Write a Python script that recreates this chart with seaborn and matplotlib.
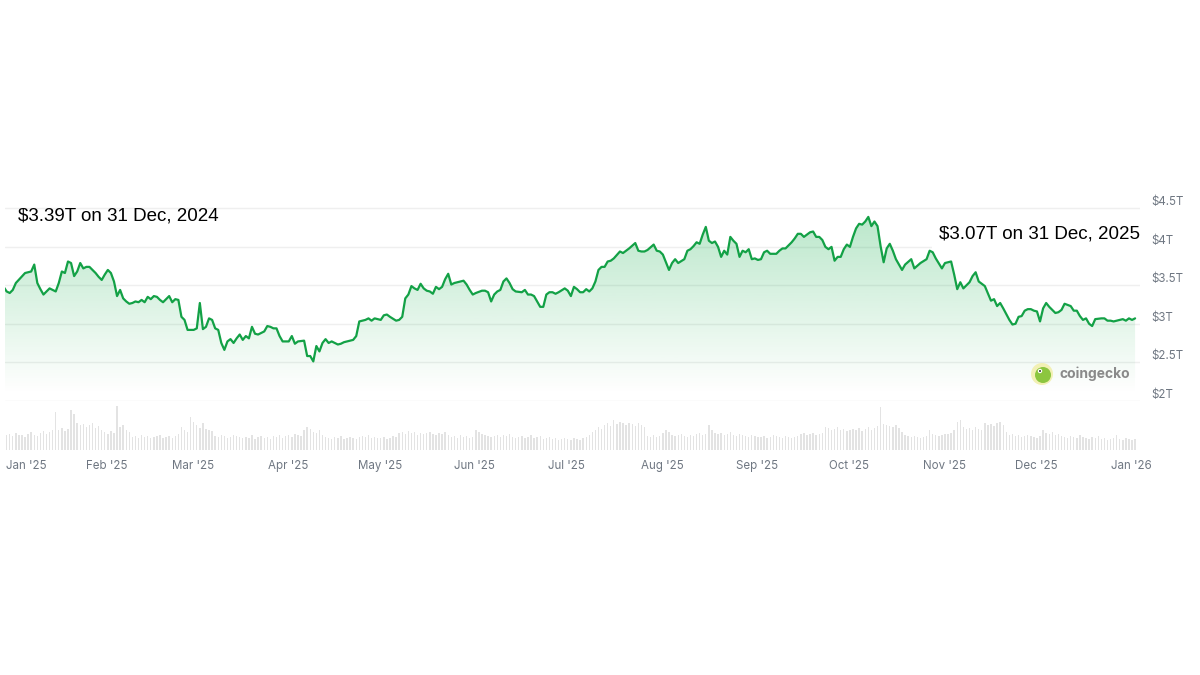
import numpy as np
import pandas as pd
import matplotlib
matplotlib.use("Agg")
import matplotlib.pyplot as plt
import matplotlib.dates as mdates
import matplotlib.transforms as mtransforms
from matplotlib.patches import Circle
import seaborn as sns

start = pd.Timestamp("2024-12-31")

# days after 31 Dec 2024, total market cap in $T
cap_day = [-3, -2, -1, 0, 1, 4, 5, 6, 7, 8, 9, 10, 11, 12, 13, 14, 15, 16, 17, 18, 19, 20, 21, 22, 23, 24, 25, 27,
           28, 29, 30, 31, 32, 33, 34, 35, 36, 37, 38, 39, 40, 41, 42, 43, 44, 45, 46, 47, 48, 49, 50, 51, 52, 53, 54,
           55, 56, 57, 58, 59, 60, 61, 62, 63, 64, 65, 66, 67, 68, 69, 70, 71, 72, 73, 74, 75, 76, 77, 78, 79, 80, 82,
           83, 84, 85, 86, 87, 88, 90, 91, 92, 93, 95, 96, 97, 98, 99, 100, 101, 102, 103, 104,
           106, 107, 108, 109, 110, 111, 112, 113, 114, 115, 116, 117, 118, 119, 120, 121, 122, 123, 125, 126, 127,
           128, 129, 130, 131, 132, 133, 134, 135, 136, 137, 138, 139, 140, 141, 142, 143, 144, 146, 147, 148, 149,
           150, 151, 153, 154, 155, 156, 157, 158, 159, 160, 161, 162, 163, 164, 166, 167, 168, 169, 170, 171, 172,
           173, 174, 175, 176, 177, 178, 180, 181, 182, 183, 184, 185, 186, 187, 188, 189, 190, 191, 192, 193, 194,
           195, 196, 198, 199, 200, 201, 203, 204, 205, 206, 207,
           209, 210, 211, 212, 213, 214, 215, 216, 217, 219, 220, 221, 222, 223, 224, 225, 226, 227, 228, 229, 230,
           231, 232, 233, 234, 235, 236, 237, 238, 239, 240, 241, 242, 243, 244, 245, 246, 247, 248, 249, 250, 251,
           252, 254, 255, 256, 257, 258, 259, 260, 261, 262, 263, 264, 265, 266, 267, 268, 269, 270, 271, 272, 273,
           274, 275, 276, 277, 278, 279, 280, 281, 282, 283, 284, 285, 286, 287, 288, 290, 291, 293, 294, 296, 298,
           299, 300, 301, 303, 304, 306, 307, 308, 309, 310,
           312, 313, 314, 315, 317, 319, 320, 321, 322, 323, 325, 326, 327, 328, 329, 330, 331, 332, 333, 334, 335,
           336, 337, 338, 340, 341, 342, 343, 345, 346, 347, 348, 349, 350, 351, 352, 353, 355, 356, 357, 358, 359,
           361, 362, 363, 364, 365, 366]
cap_trillion = [3.48, 3.42, 3.40, 3.44, 3.53, 3.66, 3.67, 3.68, 3.77, 3.53, 3.45, 3.38, 3.42, 3.46, 3.44, 3.42, 3.53,
                3.68, 3.66, 3.81, 3.79, 3.62, 3.68, 3.79, 3.72, 3.74, 3.74, 3.66, 3.61, 3.57, 3.64, 3.70, 3.66, 3.55,
                3.36, 3.44, 3.33, 3.29, 3.26, 3.27, 3.29, 3.28, 3.31, 3.28, 3.35, 3.32, 3.36, 3.35, 3.31, 3.28, 3.32,
                3.36, 3.28, 3.32, 3.31, 3.09, 3.05, 2.92, 2.92, 2.92, 2.94, 3.27, 2.93, 2.96, 3.07, 3.05, 2.94, 2.92,
                2.75, 2.66, 2.77, 2.80, 2.75, 2.81, 2.86, 2.79, 2.84, 2.81, 2.96, 2.87, 2.86, 2.90, 2.97, 2.96, 2.94,
                2.94, 2.84, 2.77, 2.77, 2.84, 2.74, 2.77, 2.78, 2.58, 2.58, 2.51, 2.71, 2.64, 2.75, 2.80, 2.75, 2.77,
                2.73, 2.74, 2.76, 2.77, 2.78, 2.79, 2.84, 3.03, 3.04, 3.05, 3.07, 3.04, 3.07, 3.06, 3.05, 3.11, 3.12,
                3.09, 3.04, 3.05, 3.09, 3.33, 3.38, 3.49, 3.46, 3.44, 3.52, 3.46, 3.43, 3.42, 3.39, 3.48, 3.45, 3.48,
                3.58, 3.65, 3.51, 3.53, 3.55, 3.56, 3.51, 3.44, 3.38, 3.40, 3.43, 3.43, 3.41, 3.29, 3.38, 3.42, 3.44,
                3.55, 3.59, 3.53, 3.45, 3.42, 3.41, 3.44, 3.38, 3.38, 3.36, 3.29, 3.22, 3.22, 3.38, 3.41, 3.41, 3.39,
                3.41, 3.46, 3.43, 3.36, 3.48, 3.45, 3.41, 3.41, 3.45, 3.42, 3.46, 3.55, 3.70, 3.74, 3.74, 3.81, 3.82,
                3.85, 3.94, 3.92, 3.95, 3.98, 4.05, 3.95, 3.94, 3.94, 3.96, 4.03, 3.95, 3.94, 3.90, 3.80, 3.70, 3.79,
                3.84, 3.79, 3.84, 3.95, 3.97, 4.01, 4.06, 4.04, 4.16, 4.26, 4.08, 4.05, 4.07, 4.00, 3.87, 3.95, 3.90,
                4.13, 4.08, 4.04, 3.87, 3.95, 3.93, 3.97, 3.84, 3.85, 3.83, 3.84, 3.93, 3.95, 3.91, 3.91, 3.91, 3.95,
                3.98, 3.98, 4.06, 4.11, 4.17, 4.17, 4.13, 4.16, 4.19, 4.20, 4.13, 4.13, 4.09, 4.00, 3.97, 4.00, 3.82,
                3.87, 3.87, 3.97, 4.03, 4.00, 4.13, 4.24, 4.30, 4.29, 4.33, 4.39, 4.27, 4.33, 4.27, 4.01, 3.80, 3.98,
                4.04, 3.95, 3.84, 3.70, 3.77, 3.84, 3.72, 3.79, 3.84, 3.95, 3.93, 3.85, 3.72, 3.79, 3.81, 3.64, 3.45,
                3.54, 3.46, 3.54, 3.62, 3.67, 3.55, 3.49, 3.30, 3.32, 3.23, 3.27, 3.20, 3.05, 2.99, 3.00, 3.09, 3.10,
                3.17, 3.19, 3.19, 3.17, 3.16, 3.03, 3.20, 3.27, 3.22, 3.14, 3.15, 3.18, 3.26, 3.23, 3.17, 3.17, 3.10,
                3.05, 3.07, 3.00, 2.97, 3.06, 3.07, 3.07, 3.04, 3.04, 3.03, 3.05, 3.06, 3.04, 3.07, 3.05, 3.07]

# daily volume in $B, consecutive days from 28 Dec 2024 to 1 Jan 2026
vol_start = "2024-12-28"
vol_q1 = [150, 150, 160, 140, 170, 155, 150, 130, 160, 180, 150, 140, 170, 190, 160, 180, 200, 380, 200, 220, 190,
          210, 400, 360, 270, 250, 260, 230, 250, 270, 220, 240, 200,
          180, 160, 190, 170, 440, 230, 250, 200, 180, 130, 140, 120, 150, 130, 140, 120, 130, 140, 150, 120,
          130, 140, 120, 140, 160, 230, 200, 180,
          330, 280, 250, 220, 270, 210, 200, 190, 140, 130, 150, 140, 120, 130, 150, 140, 130, 120, 130, 120,
          150, 110, 130, 140, 120, 130, 110, 140, 130, 150, 120]
vol_q2 = [140, 150, 130, 160, 150, 140, 200, 230, 210, 180, 170, 200, 150, 130, 120, 110, 130, 120, 140, 110,
          120, 130, 120, 110, 130, 140, 130, 150, 120, 130, 125,
          120, 130, 110, 120, 140, 130, 170, 180, 160, 190, 170, 180, 150, 170, 160, 170, 180, 160, 150, 170,
          160, 180, 150, 130, 140, 120, 150, 130, 140, 120, 130,
          200, 180, 160, 150, 140, 130, 140, 150, 130, 150, 140, 160, 130, 120, 130, 140, 120, 130, 150, 120,
          130, 140, 110, 120, 130, 110, 120, 100, 110, 120]
vol_q3 = [110, 100, 120, 110, 100, 120, 130, 150, 180, 200, 230, 210, 250, 270, 240, 300, 260, 280, 270, 250,
          270, 260, 240, 270, 250, 230, 140, 130, 150, 130, 140, 170,
          200, 180, 150, 140, 150, 160, 140, 130, 150, 140, 160, 170, 150, 160, 250, 200, 170, 160, 170, 150,
          160, 180, 150, 140, 160, 150, 140, 130, 150, 140, 130,
          130, 140, 120, 130, 150, 140, 130, 120, 140, 130, 120, 130, 140, 160, 170, 150, 160, 170, 150, 160,
          170, 230, 220, 200, 210, 230, 200, 210, 190, 200]
vol_q4 = [210, 200, 220, 190, 210, 230, 200, 220, 240, 430, 260, 250, 240, 230, 250, 220, 180, 150, 140, 130,
          140, 130, 120, 130, 140, 200, 160, 150, 140, 150, 160, 165,
          170, 200, 280, 300, 230, 210, 220, 200, 230, 210, 200, 270, 250, 260, 240, 270, 280, 250, 180, 150,
          160, 140, 150, 130, 140, 150, 140, 130, 120, 140,
          200, 170, 160, 180, 150, 160, 140, 130, 120, 140, 130, 120, 150, 130, 120, 110, 130, 120, 140, 110,
          120, 100, 110, 120, 150, 110, 100, 120, 110, 100, 110]

y_ticks = [2, 2.5, 3, 3.5, 4, 4.5]
y_tick_labels = ["$2T", "$2.5T", "$3T", "$3.5T", "$4T", "$4.5T"]
start_label = "$3.39T on 31 Dec, 2024"
end_label = "$3.07T on 31 Dec, 2025"

df = pd.DataFrame({"date": start + pd.to_timedelta(cap_day, unit="D"), "cap": cap_trillion})
vol = vol_q1 + vol_q2 + vol_q3 + vol_q4
vol_df = pd.DataFrame({"date": pd.date_range(vol_start, periods=len(vol), freq="D"), "vol": vol})

sns.set_style("white")
plt.rcParams["font.family"] = ["Inter", "DejaVu Sans"]

fig = plt.figure(figsize=(12, 6.75), dpi=100)
ax = fig.add_axes([5 / 1200, 1 - 401 / 675, 1135 / 1200, 206 / 675])
axv = fig.add_axes([5 / 1200, 1 - 450 / 675, 1135 / 1200, 45 / 675], sharex=ax)

green = "#13a146"
x0 = start - pd.Timedelta(days=2.54)
x1 = start + pd.Timedelta(days=367.6)
ymin, ymax = 1.995, 4.675

# green gradient under the line
grad = np.zeros((256, 1, 4))
grad[..., 0] = 0 / 255
grad[..., 1] = 168 / 255
grad[..., 2] = 62 / 255
grad[..., 3] = np.linspace(0.28, 0.0, 256)[:, None]
im = ax.imshow(grad, aspect="auto", origin="upper",
               extent=[mdates.date2num(x0), mdates.date2num(x1), 2.08, 4.48], zorder=1)
poly = ax.fill_between(df["date"], df["cap"], ymin, facecolor="none", edgecolor="none")
im.set_clip_path(poly.get_paths()[0], ax.transData)

sns.lineplot(data=df, x="date", y="cap", ax=ax, color=green, linewidth=1.6, zorder=3)
ax.set(xlabel=None, ylabel=None)
ax.set_xlim(x0, x1)
ax.set_ylim(ymin, ymax)
ax.set_yticks(y_ticks)
ax.set_yticklabels(y_tick_labels)
ax.yaxis.tick_right()
ax.yaxis.grid(True, color="#efefef", linewidth=1)
ax.xaxis.grid(False)
ax.tick_params(axis="y", length=0, pad=8.5, labelsize=8.3, labelcolor="#6f7782")
ax.tick_params(axis="x", length=0, labelbottom=False)
for lbl in ax.get_yticklabels():
    lbl.set_verticalalignment("bottom")
for s in ax.spines.values():
    s.set_visible(False)

# volume bars
axv.bar(vol_df["date"], vol_df["vol"], width=0.45, color="#e3e3e3", linewidth=0, zorder=2)
axv.set_ylim(0, 450)
axv.set_yticks([])
axv.xaxis.set_major_locator(mdates.MonthLocator())
axv.xaxis.set_major_formatter(mdates.DateFormatter("%b '%y"))
axv.grid(False)
axv.tick_params(axis="x", length=0, pad=7, labelsize=8.3, labelcolor="#6f7782")
axv.set_xlim(x0, x1)
for s in axv.spines.values():
    s.set_visible(False)
shift = mtransforms.ScaledTranslation(-4 / 100, 0, fig.dpi_scale_trans)
first_shift = mtransforms.ScaledTranslation(-10 / 100, 0, fig.dpi_scale_trans)
for i, lbl in enumerate(axv.get_xticklabels()):
    if i == 0:
        lbl.set_horizontalalignment("left")
        lbl.set_transform(lbl.get_transform() + first_shift)
    else:
        lbl.set_transform(lbl.get_transform() + shift)

narrow = ["Liberation Sans Narrow", "Liberation Sans", "DejaVu Sans"]
fig.text(18 / 1200, 1 - 216 / 675, start_label, fontsize=13.5, family=narrow, ha="left", va="center", color="black")
fig.text(1140 / 1200, 1 - 234 / 675, end_label, fontsize=13.5, family=narrow, ha="right", va="center", color="black",
         bbox=dict(facecolor="white", edgecolor="none", pad=5))

# coingecko watermark
ident = mtransforms.IdentityTransform()
fig.add_artist(Circle((1042, 675 - 374), 11, transform=ident, facecolor="#f2f0b4", edgecolor="none"))
fig.add_artist(Circle((1043, 675 - 375), 8, transform=ident, facecolor="#8cc63f", edgecolor="none"))
fig.add_artist(Circle((1040, 675 - 371), 2.2, transform=ident, facecolor="white", edgecolor="none"))
fig.add_artist(Circle((1040, 675 - 371), 1.0, transform=ident, facecolor="#333333", edgecolor="none"))
fig.text(1059 / 1200, 1 - 374 / 675, "coingecko", fontsize=10, fontweight="bold", color="#8a8a8a",
         ha="left", va="center")

fig.savefig("out.png", dpi=100, facecolor="white")
